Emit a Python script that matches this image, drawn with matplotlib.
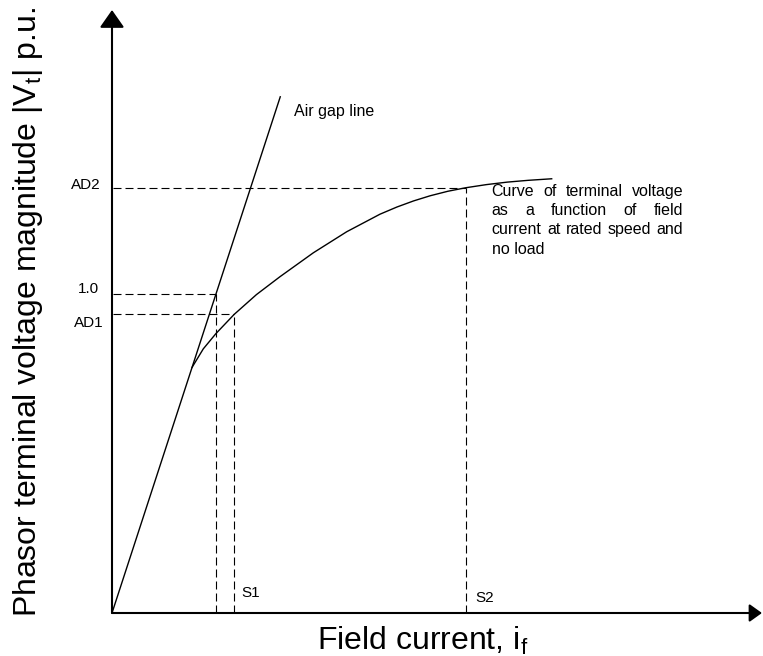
import matplotlib
matplotlib.use("Agg")
import matplotlib.pyplot as plt

plt.rcParams["font.family"] = ["Liberation Sans", "DejaVu Sans"]
plt.rcParams["mathtext.fontset"] = "custom"
plt.rcParams["mathtext.rm"] = "Liberation Sans"
plt.rcParams["mathtext.it"] = "Liberation Sans:italic"

# Open-circuit characteristic: field current (air-gap units) vs terminal voltage (p.u.)
occ_if = [0.77, 0.878, 1.0, 1.175, 1.389, 1.615, 1.936, 2.257, 2.577,
          2.74, 2.90, 3.06, 3.23, 3.404, 3.60, 3.80, 4.00, 4.228]
occ_vt = [0.77, 0.828, 0.876, 0.936, 0.998, 1.054, 1.129, 1.195, 1.250,
          1.2725, 1.2916, 1.3078, 1.3219, 1.333, 1.3427, 1.3505, 1.3561, 1.361]

# Air gap line (linear, unsaturated)
airgap_if = [0.0, 1.62]
airgap_vt = [0.0, 1.62]

# Reference levels
v_names = ["AD2", "1.0", "AD1"]
v_levels = [1.333, 1.0, 0.936]
i_names = ["S2", "", "S1"]
i_levels = [3.404, 1.0, 1.175]

x_max, y_max = 6.25, 1.89

curve_note = ["Curve of terminal voltage",
              "as a function of field",
              "current at rated speed and",
              "no load"]

fig = plt.figure(figsize=(7.63, 6.56), dpi=100)
ax = fig.add_axes([112 / 763, 43 / 656, 651 / 763, 603 / 656])
ax.set_xlim(0, 6.26)
ax.set_ylim(0, y_max)
ax.axis("off")

# Axes with arrowheads
ax.annotate("", xy=(0, y_max), xytext=(0, 0), annotation_clip=False,
            arrowprops=dict(arrowstyle="-|>,head_length=0.4,head_width=0.28",
                            mutation_scale=27, lw=1.5, color="k",
                            shrinkA=0, shrinkB=0))
ax.annotate("", xy=(x_max, 0), xytext=(0, 0), annotation_clip=False,
            arrowprops=dict(arrowstyle="-|>,head_length=0.28,head_width=0.2",
                            mutation_scale=27, lw=1.5, color="k",
                            shrinkA=0, shrinkB=0))

# Curves
ax.plot(airgap_if, airgap_vt, color="k", lw=1.0, solid_capstyle="butt")
ax.plot(occ_if, occ_vt, color="k", lw=1.0, solid_joinstyle="round")

# Dashed projection lines
dash = (0, (7.2, 3.6))
for iv, vv in zip(i_levels, v_levels):
    ax.plot([0.01, iv], [vv, vv], color="k", lw=0.8, ls=dash)
    ax.plot([iv, iv], [0, vv], color="k", lw=0.8, ls=dash)

# Level labels on the voltage axis
v_offsets = {"AD2": (-7.9, -0.9), "1.0": (-9.4, 0.9), "AD1": (-5.8, -9.0)}
for name, vv in zip(v_names, v_levels):
    ax.annotate(name, xy=(0, vv), xytext=v_offsets[name], textcoords="offset points",
                ha="right", va="baseline", fontsize=11, annotation_clip=False)

# Field current labels
i_offsets = {"S2": (6.5, 8.1), "S1": (5.4, 11.7)}
for name, iv in zip(i_names, i_levels):
    if name:
        ax.annotate(name, xy=(iv, 0), xytext=i_offsets[name], textcoords="offset points",
                    ha="left", va="baseline", fontsize=11)

ax.annotate("Air gap line", xy=(airgap_if[-1], airgap_vt[-1]), xytext=(9.7, -14.2),
            textcoords="offset points", ha="left", va="baseline", fontsize=11.5)

# Justified note next to the saturation curve
renderer = fig.canvas.get_renderer()
note_fs = 11.5
box_w_px = 191.6
line_px = 19.3
anchor = (i_levels[0], v_levels[0])
x0_pt, y0_pt = 18.5, -5.8
for k, line in enumerate(curve_note):
    words = line.split()
    y_pt = y0_pt - k * line_px * 0.72
    if k == len(curve_note) - 1 or len(words) == 1:
        ax.annotate(line, xy=anchor, xytext=(x0_pt, y_pt), textcoords="offset points",
                    ha="left", va="baseline", fontsize=note_fs)
        continue
    objs, widths = [], []
    for w in words:
        t = ax.annotate(w, xy=anchor, xytext=(x0_pt, y_pt), textcoords="offset points",
                        ha="left", va="baseline", fontsize=note_fs)
        objs.append(t)
        widths.append(t.get_window_extent(renderer).width)
    gap = (box_w_px - sum(widths)) / (len(words) - 1)
    pos = 0.0
    for t, wd in zip(objs, widths):
        t.set_position((x0_pt + pos * 0.72, y_pt))
        pos += wd + gap

# Axis titles
fig.text(316.7 / 763, (656 - 650.0) / 656, r"Field current, i$_{\mathrm{f}}$",
         ha="left", va="baseline", fontsize=23)
fig.text(36 / 763, (656 - 616.7) / 656, r"Phasor terminal voltage magnitude |V$_{\mathrm{t}}$| p.u.",
         ha="left", va="baseline", rotation=90, rotation_mode="anchor", fontsize=23)

fig.savefig("out.png", dpi=100)
